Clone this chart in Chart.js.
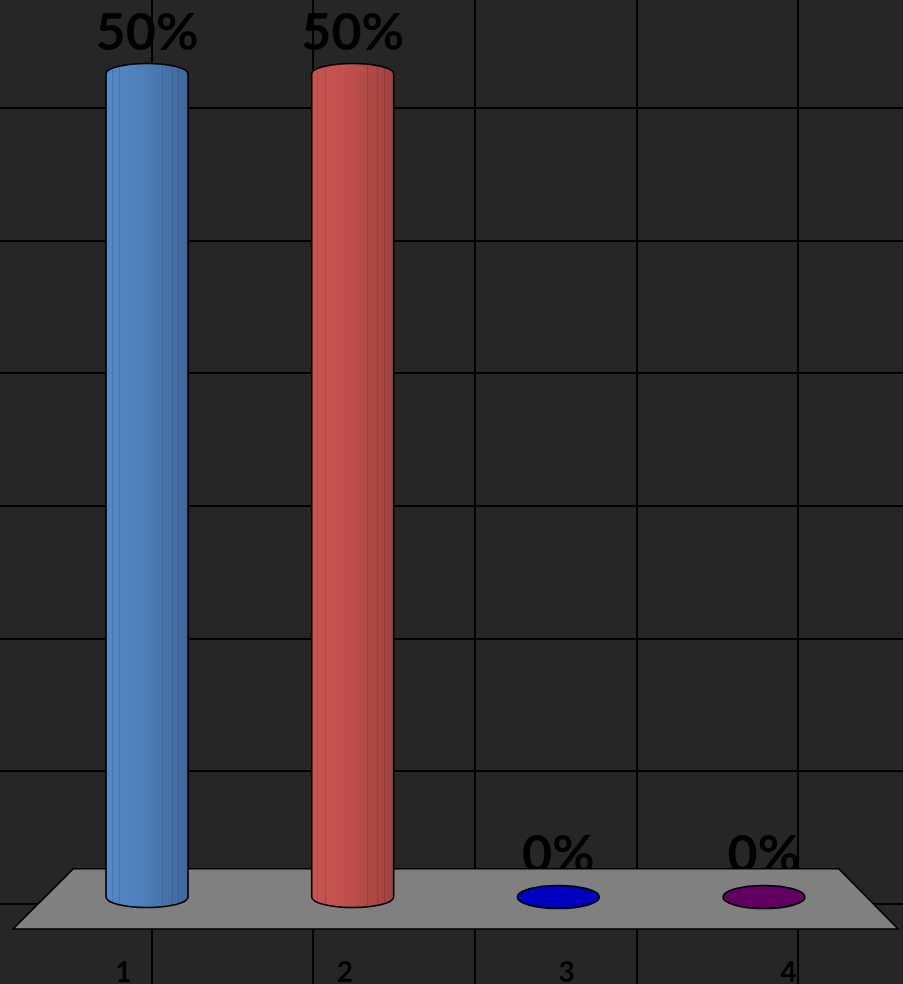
<!DOCTYPE html>
<html>
<head>
<meta charset="utf-8">
<script src="https://cdn.jsdelivr.net/npm/chart.js@4.4.1/dist/chart.umd.min.js"></script>
<style>
  html, body { margin: 0; padding: 0; background: #262626; }
  #wrap { width: 903px; height: 984px; position: relative; }
</style>
</head>
<body>
<div id="wrap"><canvas id="c"></canvas></div>
<script>
// ---- data ----
const categories = ['1', '2', '3', '4'];
const values = [50, 50, 0, 0];
const valueLabels = ['50%', '50%', '0%', '0%'];
const gridXTicks = [0, 1, 2, 3, 4];
const gridYTicks = [0, 1, 2, 3, 4, 5, 6];

// ---- styles ----
const barColors = [
  { left: '#5689c9', mid: '#4e7fbb', right: '#40679a' },
  { left: '#c85551', mid: '#c0504d', right: '#9e423f' },
  { left: '#0000c4', mid: '#0000c0', right: '#0000b0' },
  { left: '#640064', mid: '#600060', right: '#560056' }
];
const FACETS = [0.07, 0.16, 0.68, 0.80, 0.88];
const CAP_RY = 10.5;
const FLOOR = { top: 0.883, bottom: 0.944, tl: 0.081, tr: 0.929, bl: 0.0144, br: 0.9945 };
const LABEL_SPREAD = 1.078;
const BG = '#262626';

function cylPath(ctx, x, top, base, rx) {
  ctx.beginPath();
  ctx.moveTo(x - rx, top);
  ctx.lineTo(x - rx, base);
  ctx.ellipse(x, base, rx, CAP_RY, 0, Math.PI, 0, true);
  ctx.lineTo(x + rx, top);
  ctx.ellipse(x, top, rx, CAP_RY, 0, 0, Math.PI, true);
  ctx.closePath();
}

const cylinderPlugin = {
  id: 'cylinders',
  beforeDraw(chart) {
    const { ctx, width, height } = chart;
    ctx.save();
    ctx.fillStyle = BG;
    ctx.fillRect(0, 0, width, height);
    // back-wall grid, placed through the hidden grid scales
    const gx = chart.scales.gx, gy = chart.scales.gy, a = chart.chartArea;
    ctx.strokeStyle = '#000';
    ctx.lineWidth = 2;
    gridXTicks.forEach(v => {
      const px = Math.round(gx.getPixelForValue(v));
      ctx.beginPath();
      ctx.moveTo(px, a.top);
      ctx.lineTo(px, a.bottom);
      ctx.stroke();
    });
    gridYTicks.forEach(v => {
      const py = Math.round(gy.getPixelForValue(v));
      ctx.beginPath();
      ctx.moveTo(a.left, py);
      ctx.lineTo(a.right, py);
      ctx.stroke();
    });
    ctx.restore();
  },
  beforeDatasetsDraw(chart) {
    const { ctx, chartArea: a } = chart;
    const meta = chart.getDatasetMeta(0);
    // value labels (sit behind the floor)
    ctx.save();
    ctx.fillStyle = '#000';
    ctx.font = 'bold 52px Lato';
    ctx.textAlign = 'center';
    ctx.textBaseline = 'alphabetic';
    meta.data.forEach((el, i) => {
      ctx.fillText(valueLabels[i], el.x, el.y - CAP_RY - 14);
    });
    ctx.restore();
    // floor
    const W = a.right - a.left, H = a.bottom - a.top;
    ctx.save();
    ctx.beginPath();
    ctx.moveTo(a.left + FLOOR.tl * W, a.top + FLOOR.top * H);
    ctx.lineTo(a.left + FLOOR.tr * W, a.top + FLOOR.top * H);
    ctx.lineTo(a.left + FLOOR.br * W, a.top + FLOOR.bottom * H);
    ctx.lineTo(a.left + FLOOR.bl * W, a.top + FLOOR.bottom * H);
    ctx.closePath();
    ctx.fillStyle = '#808080';
    ctx.fill();
    ctx.strokeStyle = '#000';
    ctx.lineWidth = 1.5;
    ctx.stroke();
    ctx.restore();
  },
  afterDatasetsDraw(chart) {
    const { ctx, chartArea: a } = chart;
    const meta = chart.getDatasetMeta(0);
    meta.data.forEach((el, i) => {
      const c = barColors[i];
      const w = el.width, rx = w / 2;
      const left = el.x - rx, right = el.x + rx;
      const top = el.y, base = el.base;
      ctx.save();
      ctx.strokeStyle = '#000';
      ctx.lineWidth = 1.6;
      if (base - top > 1) {
        const g = ctx.createLinearGradient(left, 0, right, 0);
        g.addColorStop(0, c.left);
        g.addColorStop(0.45, c.mid);
        g.addColorStop(1, c.right);
        ctx.fillStyle = g;
        cylPath(ctx, el.x, top, base, rx);
        ctx.fill();
        ctx.save();
        ctx.clip();
        ctx.strokeStyle = 'rgba(0,0,0,0.13)';
        ctx.lineWidth = 1;
        FACETS.forEach(f => {
          const fx = Math.round(left + f * w) + 0.5;
          ctx.beginPath();
          ctx.moveTo(fx, top - CAP_RY);
          ctx.lineTo(fx, base + CAP_RY);
          ctx.stroke();
        });
        ctx.restore();
        cylPath(ctx, el.x, top, base, rx);
        ctx.stroke();
      } else {
        ctx.fillStyle = c.mid;
        ctx.beginPath();
        ctx.ellipse(el.x, base, rx, CAP_RY + 1, 0, 0, Math.PI * 2);
        ctx.fill();
        ctx.stroke();
      }
      ctx.restore();
    });
    // category labels (perspective-spread along the floor front)
    const cx = (a.left + a.right) / 2;
    ctx.save();
    ctx.fillStyle = '#000';
    ctx.font = 'bold 28px Lato';
    ctx.textAlign = 'center';
    ctx.textBaseline = 'alphabetic';
    meta.data.forEach((el, i) => {
      ctx.fillText(categories[i], cx + (el.x - cx) * LABEL_SPREAD, a.bottom - 2);
    });
    ctx.restore();
  }
};

new Chart(document.getElementById('c'), {
  type: 'bar',
  data: {
    datasets: [{
      data: values.map((v, i) => ({ x: i + 1, y: v })),
      backgroundColor: 'rgba(0,0,0,0)',
      borderWidth: 0,
      barThickness: 82,
      xAxisID: 'x',
      yAxisID: 'y'
    }]
  },
  options: {
    responsive: true,
    maintainAspectRatio: false,
    animation: false,
    layout: { padding: 0 },
    plugins: { legend: { display: false }, tooltip: { enabled: false } },
    scales: {
      x: { type: 'linear', display: false, min: 0.285, max: 4.676, offset: false },
      y: { type: 'linear', display: false, min: -5.286, max: 54.496 },
      gx: { type: 'linear', axis: 'x', position: 'bottom', display: false, min: -0.941, max: 4.650, offset: false },
      gy: { type: 'linear', axis: 'y', position: 'left', display: false, min: -0.603, max: 6.814, offset: false }
    }
  },
  plugins: [cylinderPlugin]
});
</script>
</body>
</html>
